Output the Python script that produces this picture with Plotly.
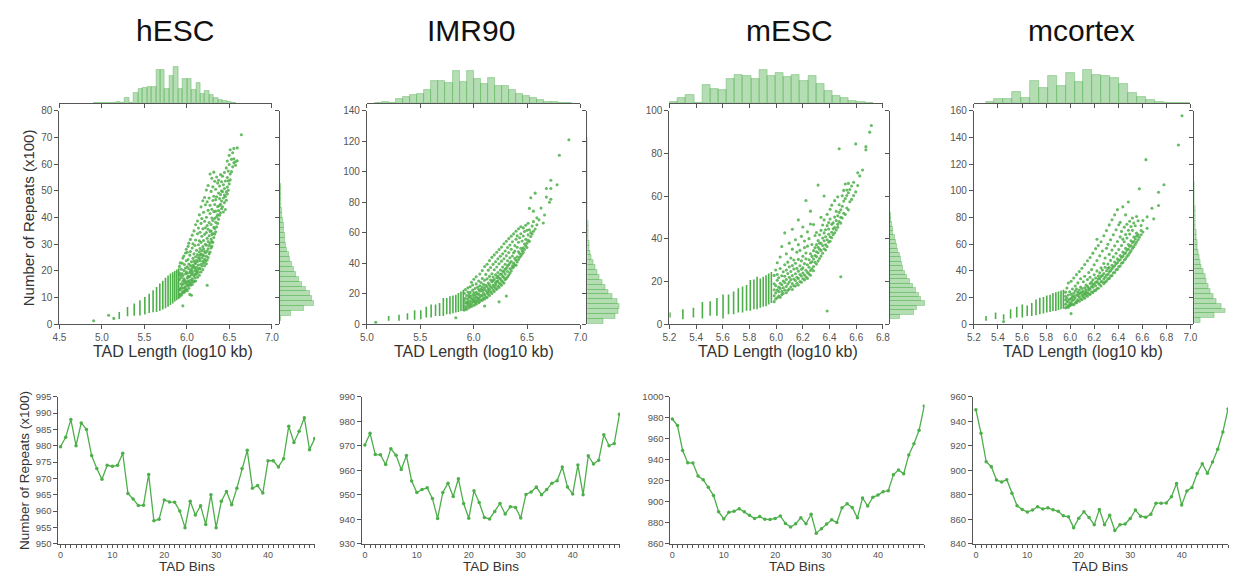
import plotly.graph_objects as go

W, H = 1235, 581
GREEN = "#4daf4a"
FONT = "Liberation Sans, Arial, sans-serif"

cells = ["hESC", "IMR90", "mESC", "mcortex"]
bins = list(range(50))

# ---------------- bottom: repeats per TAD bin (x100) ----------------
hesc_bins = [979.7, 982.6, 988.0, 980.0, 987.0, 985.0, 977.0, 973.0, 969.7, 974.0,
             973.7, 974.0, 977.7, 965.4, 963.7, 961.7, 961.8, 971.2, 957.0, 957.5,
             963.4, 962.8, 962.7, 960.0, 954.9, 963.0, 958.8, 961.6, 955.9, 965.0,
             954.9, 963.0, 966.0, 961.9, 967.0, 973.0, 978.6, 967.0, 967.8, 965.5,
             975.4, 975.4, 973.5, 976.0, 986.0, 981.0, 984.4, 988.6, 978.8, 982.2]
imr90_bins = [970.3, 975.1, 966.4, 966.3, 962.3, 968.8, 966.1, 960.3, 966.0, 955.6,
              950.9, 952.1, 952.8, 948.4, 940.3, 950.9, 954.7, 949.3, 956.5, 946.4,
              940.4, 951.6, 946.8, 940.7, 940.1, 943.1, 946.4, 942.1, 945.1, 944.8,
              940.5, 950.1, 951.1, 953.1, 950.0, 952.1, 954.7, 955.7, 961.3, 953.1,
              950.3, 962.1, 950.0, 965.9, 962.5, 964.1, 974.5, 970.0, 970.9, 982.9]
mesc_bins = [978.8, 972.6, 948.7, 937.2, 936.8, 924.4, 921.0, 913.8, 906.0, 890.5,
             883.6, 889.9, 890.8, 893.3, 890.5, 887.0, 884.0, 885.8, 883.3, 883.0,
             884.0, 886.4, 879.3, 875.9, 879.0, 884.6, 879.0, 888.0, 870.0, 874.3,
             878.7, 882.7, 880.2, 894.2, 898.0, 894.5, 884.6, 903.5, 895.8, 904.2,
             906.3, 909.5, 910.4, 925.6, 930.3, 926.6, 944.6, 955.2, 968.0, 991.3]
mcortex_bins = [949.3, 930.1, 906.9, 902.9, 892.0, 890.4, 892.3, 881.1, 870.9, 868.0,
                865.9, 867.5, 870.1, 868.3, 869.3, 867.7, 866.4, 862.7, 861.9, 853.1,
                860.8, 866.1, 861.3, 855.5, 868.0, 855.5, 863.2, 850.7, 855.5, 856.0,
                860.5, 867.5, 862.4, 861.6, 864.0, 873.1, 873.1, 873.3, 878.4, 889.1,
                871.5, 883.0, 885.9, 897.3, 905.3, 897.6, 906.7, 917.1, 931.2, 950.0]

# ---------------- scatter: discrete-length stripes (x = log10 length, y range) ----------------
hesc_stripe_x = [5.204, 5.301, 5.380, 5.447, 5.505, 5.556, 5.602, 5.643, 5.681, 5.716, 5.748, 5.778, 5.806, 5.833, 5.857, 5.881, 5.903]
hesc_stripe_lo = [2.0, 3.0, 3.2, 3.3, 3.7, 4.2, 4.5, 4.6, 5.0, 5.5, 6.0, 6.6, 7.2, 7.8, 8.5, 9.0, 9.5]
hesc_stripe_hi = [4.6, 6.5, 7.8, 9.0, 10.2, 11.4, 12.8, 14.0, 15.3, 16.3, 17.4, 18.3, 19.0, 19.5, 20.0, 20.5, 21.0]

imr90_stripe_x = [5.204, 5.301, 5.380, 5.447, 5.505, 5.556, 5.602, 5.643, 5.681, 5.716, 5.748, 5.778, 5.806, 5.833, 5.857, 5.881, 5.903]
imr90_stripe_lo = [2.3, 2.3, 3.0, 3.0, 3.3, 4.5, 4.5, 5.5, 5.5, 5.5, 6.6, 6.6, 7.3, 7.7, 8.0, 8.7, 8.7]
imr90_stripe_hi = [5.5, 6.2, 7.3, 9.2, 9.2, 11.5, 13.0, 13.0, 14.0, 17.3, 17.3, 18.4, 18.8, 19.4, 20.5, 21.5, 22.6]

mesc_stripe_x = [5.204, 5.301, 5.380, 5.447, 5.505, 5.556, 5.602, 5.643, 5.681, 5.716, 5.748, 5.778, 5.806, 5.833, 5.857, 5.881, 5.903, 5.924, 5.944, 5.964]
mesc_stripe_lo = [3.2, 2.4, 3.2, 2.7, 4.0, 4.0, 2.7, 4.7, 4.7, 5.5, 5.5, 6.3, 6.3, 7.0, 7.0, 7.8, 8.2, 8.5, 9.3, 10.0]
mesc_stripe_hi = [5.5, 7.0, 7.8, 10.4, 10.8, 12.3, 13.9, 13.9, 15.4, 16.9, 17.7, 18.4, 20.7, 21.0, 22.3, 21.5, 22.3, 23.0, 23.8, 24.5]

mcortex_stripe_x = [5.301, 5.380, 5.447, 5.505, 5.556, 5.602, 5.643, 5.681, 5.716, 5.748, 5.778, 5.806, 5.833, 5.857, 5.881, 5.903, 5.924, 5.944]
mcortex_stripe_lo = [2.7, 3.9, 3.4, 4.4, 5.1, 5.1, 6.3, 6.3, 6.8, 7.6, 8.0, 8.8, 9.3, 10.0, 10.0, 10.7, 11.2, 11.7]
mcortex_stripe_hi = [6.3, 8.8, 7.6, 11.2, 13.2, 14.9, 14.1, 16.0, 18.5, 19.8, 20.5, 21.5, 22.2, 23.4, 24.0, 24.6, 25.4, 25.9]

# ---------------- scatter: individual TADs (x, [repeat counts]) ----------------
hesc_cloud = [
    (4.903, [1.3]), (5.079, [3.4]), (5.140, [2.2]),
    (5.912, [10.4, 16.8, 13.1, 21.7, 19.2]), (5.921, [12.9, 11.3, 18.4, 23.0]),
    (5.933, [15.2, 10.9, 20.6, 13.8, 17.5]), (5.944, [11.6, 22.9, 14.7, 19.0]),
    (5.952, [6.9, 16.1, 12.4, 24.8, 18.3, 13.5]), (5.964, [20.2, 11.9, 15.3, 25.6, 17.0]),
    (5.971, [13.7, 22.4, 16.6, 12.2]), (5.983, [18.9, 14.1, 26.7, 21.1, 12.8, 16.0]),
    (5.992, [15.5, 23.8, 13.0, 19.7, 28.1]), (6.004, [17.3, 12.6, 21.5, 14.9, 27.0, 19.1]),
    (6.013, [14.4, 24.3, 18.0, 16.2, 29.2]), (6.022, [20.8, 13.5, 17.7, 22.6, 15.8, 30.4]),
    (6.034, [11.2, 19.4, 25.9, 15.1, 17.9]), (6.041, [16.5, 22.0, 14.6, 31.8, 19.9, 27.3]),
    (6.053, [10.9, 18.6, 15.7, 23.4, 20.5]), (6.062, [17.0, 28.6, 14.9, 21.3, 33.4, 19.0]),
    (6.071, [19.8, 16.3, 24.7, 22.1, 30.2]), (6.083, [15.9, 21.6, 18.2, 35.0, 26.4, 23.7]),
    (6.094, [18.7, 23.0, 17.4, 29.5, 20.9]), (6.102, [16.2, 25.3, 20.1, 37.3, 22.8, 31.6]),
    (6.113, [21.4, 18.8, 27.7, 24.0, 19.6]), (6.124, [17.6, 23.5, 33.9, 20.4, 26.1, 38.7]),
    (6.135, [22.2, 19.5, 29.8, 25.0, 36.1]), (6.146, [18.4, 24.6, 21.0, 41.0, 31.3, 27.2]),
    (6.154, [23.8, 20.7, 28.4, 34.5, 25.9]), (6.166, [19.6, 26.3, 22.5, 44.0, 30.7, 37.8]),
    (6.175, [24.9, 21.8, 33.0, 27.6, 39.6]), (6.187, [20.5, 29.1, 23.6, 35.8, 46.3, 26.0]),
    (6.196, [25.7, 22.9, 31.4, 42.0, 28.2]), (6.208, [21.9, 27.3, 38.6, 24.4, 33.7, 47.5]),
    (6.217, [26.8, 23.6, 30.0, 44.8, 36.2]), (6.229, [22.7, 29.6, 25.5, 40.1, 34.4, 50.3]),
    (6.238, [14.6, 27.4, 32.2, 24.1, 45.9, 37.0]), (6.249, [25.0, 31.0, 28.3, 42.7, 52.0, 35.6]),
    (6.261, [29.5, 26.4, 38.1, 33.2, 47.3]), (6.272, [27.1, 34.8, 30.4, 56.3, 41.5, 44.6]),
    (6.284, [31.9, 28.6, 37.4, 49.8, 35.0]), (6.293, [29.2, 39.8, 33.6, 54.7, 43.1, 31.0]),
    (6.305, [34.0, 30.7, 46.4, 38.9, 51.5]), (6.316, [32.5, 42.2, 36.3, 57.0, 48.0]),
    (6.327, [35.9, 44.9, 39.7, 33.8, 53.6]), (6.338, [38.2, 34.7, 50.6, 42.4, 46.7]),
    (6.349, [40.3, 36.5, 55.2, 47.8]), (6.361, [37.8, 44.1, 52.9, 41.0]),
    (6.372, [42.6, 39.4, 49.2, 54.0]), (6.384, [44.5, 40.9, 51.8, 47.1]),
    (6.395, [41.8, 48.6, 56.1, 45.0]), (6.407, [46.2, 43.3, 53.4, 50.0]),
    (6.418, [44.0, 49.7, 55.5]), (6.429, [47.3, 42.1, 52.3]), (6.441, [50.9, 45.6, 56.9, 48.4]),
    (6.452, [43.0, 47.9, 53.7]), (6.463, [49.6, 46.5, 58.6]), (6.475, [51.4, 55.0, 61.2, 48.8]),
    (6.486, [53.8, 50.2, 57.4]), (6.497, [52.6, 59.9, 63.3]), (6.509, [56.3, 54.1, 65.4]),
    (6.524, [57.2, 61.8]), (6.538, [59.0, 64.3]), (6.552, [62.0, 60.5, 65.9]),
    (6.571, [59.6, 60.9]), (6.592, [61.3, 66.1]), (6.640, [71.0]),
]
imr90_cloud = [
    (5.083, [1.3]), (5.833, [4.3]),
    (5.912, [9.3, 15.6, 12.0, 20.4]), (5.923, [13.8, 10.4, 22.7, 17.1]),
    (5.934, [11.5, 18.9, 14.2, 9.8]), (5.946, [16.4, 12.7, 21.2, 23.9, 14.9]),
    (5.957, [10.9, 19.5, 13.6, 17.8]), (5.968, [15.0, 24.6, 12.1, 18.3, 20.9]),
    (5.979, [13.3, 16.9, 27.6, 11.7]), (5.991, [19.1, 14.6, 22.4, 16.0, 25.8]),
    (6.002, [12.4, 17.6, 29.5, 15.2, 20.7]), (6.013, [16.3, 23.5, 13.9, 19.4]),
    (6.024, [14.8, 21.0, 18.0, 31.2, 26.5, 13.1]), (6.036, [17.2, 15.5, 24.3, 20.0]),
    (6.047, [19.6, 14.1, 28.4, 22.8, 16.7]), (6.058, [21.7, 17.9, 15.0, 33.0, 25.2]),
    (6.069, [16.1, 23.1, 19.0, 27.4]), (6.081, [18.6, 15.7, 30.0, 21.9, 35.3, 24.5]),
    (6.092, [20.3, 17.0, 26.2, 22.6]), (6.103, [12.0, 19.3, 28.9, 24.0, 16.6, 37.9]),
    (6.114, [22.1, 18.1, 32.7, 25.6]), (6.126, [17.5, 24.8, 20.6, 29.8, 39.4]),
    (6.137, [23.3, 19.7, 35.5, 27.0, 21.4]), (6.148, [18.9, 26.0, 31.4, 22.7, 41.8]),
    (6.159, [24.6, 21.1, 29.0, 37.2]), (6.171, [20.2, 27.9, 23.9, 43.9, 33.1]),
    (6.182, [25.8, 22.4, 31.0, 39.3, 28.6]), (6.193, [21.5, 29.4, 35.8, 24.7, 45.5]),
    (6.205, [27.2, 23.6, 32.5, 41.0, 26.1]), (6.216, [22.9, 30.6, 37.6, 47.2, 28.0]),
    (6.227, [28.5, 25.0, 34.0, 42.9, 31.7]), (6.238, [14.7, 24.2, 30.3, 39.7, 27.1, 49.0]),
    (6.250, [29.9, 26.4, 35.6, 44.6, 32.8]), (6.261, [25.6, 33.0, 41.4, 28.7, 50.6]),
    (6.272, [31.4, 27.8, 37.5, 46.2, 34.9]), (6.284, [27.0, 34.4, 43.0, 30.6, 52.8]),
    (6.295, [32.9, 29.3, 39.4, 48.1, 36.0]), (6.306, [18.5, 30.1, 36.8, 44.9, 54.5]),
    (6.318, [34.6, 31.2, 41.7, 50.4, 38.3]), (6.329, [32.3, 39.0, 47.1, 56.2]),
    (6.340, [36.5, 33.6, 43.6, 52.0, 40.2]), (6.352, [35.0, 41.2, 49.2, 57.8]),
    (6.363, [38.4, 44.8, 36.9, 54.1]), (6.374, [40.1, 37.6, 46.9, 59.3]),
    (6.386, [39.0, 43.2, 51.6, 48.0]), (6.397, [42.0, 38.7, 55.8, 61.0]),
    (6.408, [44.3, 40.8, 50.5, 58.0]), (6.420, [42.5, 47.6, 53.8, 62.6]),
    (6.431, [46.4, 43.9, 56.7]), (6.442, [45.0, 49.9, 59.4, 64.0]), (6.454, [48.3, 46.1, 54.6]),
    (6.465, [50.1, 47.2, 57.9, 63.2]), (6.476, [49.0, 52.6, 60.8]), (6.488, [51.5, 55.7, 64.9]),
    (6.499, [53.2, 50.4, 61.7]), (6.510, [55.0, 58.6, 66.3]), (6.522, [54.4, 62.0, 76.0]),
    (6.535, [57.6, 60.1, 83.0]), (6.548, [59.2, 64.4]), (6.560, [61.0, 67.3, 74.2]),
    (6.576, [62.5, 86.0]), (6.592, [65.2, 69.8]), (6.612, [68.5]), (6.631, [76.2]),
    (6.652, [66.4]), (6.664, [71.7]), (6.681, [83.4, 89.0]), (6.710, [80.0]),
    (6.723, [82.0, 89.0, 94.5]), (6.781, [91.5]), (6.803, [110.8]), (6.892, [121.0]),
]
mesc_cloud = [
    (5.985, [10.6, 16.2, 13.4, 22.9, 19.0]), (5.996, [14.7, 11.9, 25.4, 18.1]),
    (6.008, [12.4, 20.6, 16.0, 28.8, 23.3]), (6.019, [17.4, 13.2, 21.8, 15.3]),
    (6.030, [12.7, 19.2, 26.1, 16.8, 31.5]), (6.042, [15.4, 22.7, 18.5, 13.9, 36.4]),
    (6.053, [20.3, 14.4, 24.6, 17.1]), (6.064, [16.0, 27.9, 19.6, 22.5, 42.8]),
    (6.076, [14.8, 21.0, 17.7, 33.0, 25.4]), (6.087, [18.9, 15.9, 23.8, 29.1]),
    (6.098, [22.0, 16.5, 19.8, 38.0, 26.9]), (6.110, [17.6, 24.7, 20.9, 31.0]),
    (6.121, [16.3, 22.8, 19.1, 35.2, 27.5, 44.5]), (6.132, [21.2, 18.0, 25.9, 30.1]),
    (6.144, [23.7, 17.9, 28.6, 20.5, 39.6]), (6.155, [19.2, 26.2, 22.0, 33.8]),
    (6.166, [24.9, 18.4, 21.5, 30.4, 37.3, 48.9]), (6.178, [20.0, 27.4, 23.3, 34.6]),
    (6.189, [22.6, 29.7, 19.7, 25.8, 41.2]), (6.200, [26.4, 21.3, 31.9, 24.0, 45.6]),
    (6.212, [23.1, 28.4, 20.8, 35.9, 39.0]), (6.223, [25.3, 30.7, 22.2, 33.4, 58.0]),
    (6.234, [27.9, 24.3, 21.5, 36.6, 43.3]), (6.246, [23.6, 30.2, 26.7, 40.1]),
    (6.257, [28.8, 25.2, 33.0, 23.0, 47.0, 53.0]), (6.268, [26.0, 31.8, 29.3, 37.4]),
    (6.280, [30.6, 27.1, 34.5, 25.1, 46.7]), (6.291, [29.0, 35.9, 32.2, 41.6]),
    (6.302, [31.7, 28.2, 37.3, 34.0, 43.0]), (6.314, [33.5, 29.6, 39.2, 36.1, 65.2]),
    (6.325, [30.8, 35.2, 41.9, 38.0]), (6.336, [34.6, 32.0, 37.9, 44.0, 50.1]),
    (6.348, [36.9, 33.3, 40.4, 46.5]), (6.359, [35.4, 39.1, 42.8, 48.9, 60.1]),
    (6.370, [37.2, 34.8, 44.3, 41.0]), (6.382, [6.2, 39.6, 36.4, 46.2, 51.5]),
    (6.393, [38.5, 42.2, 47.7, 44.6]), (6.404, [41.0, 38.9, 49.3, 53.9]),
    (6.416, [43.1, 40.5, 46.8, 55.8]), (6.427, [42.0, 47.5, 44.7]),
    (6.438, [45.3, 42.9, 50.2, 57.9]), (6.450, [44.2, 48.6, 52.9]),
    (6.461, [46.9, 50.8, 45.5, 59.7]), (6.472, [48.1, 52.4, 56.0, 82.2]),
    (6.484, [22.3, 47.4, 53.6, 50.1]), (6.495, [49.8, 55.3, 60.2]), (6.506, [52.0, 57.7, 62.7]),
    (6.518, [51.4, 58.9, 65.7]), (6.529, [54.5, 60.3, 62.9]), (6.541, [53.6, 61.6, 66.0]),
    (6.552, [57.4, 63.1]), (6.565, [58.5, 64.8]), (6.580, [60.3, 66.5]), (6.596, [62.0, 84.5]),
    (6.611, [65.0, 71.0]), (6.626, [69.5]), (6.647, [72.3]), (6.672, [81.7, 83.2]),
    (6.701, [90.0]), (6.713, [93.1]),
]
mcortex_cloud = [
    (5.447, [2.0]),
    (5.962, [12.3, 18.4, 15.0, 24.1, 21.0]), (5.973, [16.7, 13.0, 27.2, 19.6]),
    (5.985, [14.1, 21.9, 12.7, 30.9, 17.5]), (5.996, [18.8, 15.6, 24.4, 13.9]),
    (6.008, [8.0, 16.3, 22.6, 14.4, 32.3, 19.4]), (6.019, [20.7, 15.0, 26.5, 17.9]),
    (6.030, [14.6, 23.3, 18.6, 34.7, 21.1]), (6.042, [19.8, 16.0, 28.7, 24.9]),
    (6.053, [17.2, 22.0, 16.2, 37.2, 26.4]), (6.064, [21.5, 18.3, 31.0, 24.1]),
    (6.076, [17.3, 25.7, 20.4, 39.5, 22.8]), (6.087, [23.6, 19.1, 28.0, 34.1]),
    (6.098, [18.4, 21.6, 26.8, 42.0, 24.2]), (6.110, [24.8, 20.3, 31.9, 22.4]),
    (6.121, [19.6, 27.3, 23.0, 44.8, 36.0]), (6.132, [25.9, 21.7, 29.4, 24.1]),
    (6.144, [21.0, 28.4, 23.5, 47.6, 33.5]), (6.155, [27.1, 22.9, 38.8, 25.6]),
    (6.166, [22.4, 30.6, 26.5, 50.1, 35.2]), (6.178, [28.3, 24.2, 41.0, 31.7]),
    (6.189, [23.9, 33.4, 27.8, 53.3, 29.9]), (6.200, [30.2, 25.3, 37.1, 44.6]),
    (6.212, [25.4, 34.7, 28.9, 56.7, 31.5]), (6.223, [32.1, 26.6, 40.0, 47.8, 63.7]),
    (6.234, [27.0, 36.2, 30.8, 59.0, 33.9]), (6.246, [29.7, 38.5, 34.2, 51.3]),
    (6.257, [28.7, 35.9, 32.0, 61.8, 42.3]), (6.268, [31.8, 40.7, 36.6, 54.9]),
    (6.280, [30.5, 38.0, 33.9, 66.4, 45.5]), (6.291, [35.3, 42.8, 31.6, 49.7]),
    (6.302, [32.4, 40.1, 36.8, 70.2, 57.0]), (6.314, [37.5, 45.1, 34.0, 60.0, 41.9]),
    (6.325, [34.4, 42.6, 39.3, 74.5, 52.4]), (6.336, [40.2, 36.1, 47.9, 63.3]),
    (6.348, [36.5, 44.3, 41.7, 78.3, 55.6]), (6.359, [42.9, 38.6, 50.5, 67.1]),
    (6.370, [38.8, 46.7, 43.9, 82.0, 58.8]), (6.382, [45.4, 40.8, 53.2, 70.9]),
    (6.393, [41.2, 49.0, 46.1, 85.9, 62.0]), (6.404, [47.8, 43.2, 56.1, 74.6]),
    (6.416, [43.7, 51.6, 48.4, 76.4, 65.5]), (6.427, [50.3, 45.7, 59.0, 69.6]),
    (6.438, [46.3, 54.2, 50.9, 88.0, 63.8]), (6.450, [52.8, 48.2, 61.9, 72.8]),
    (6.461, [49.1, 57.0, 53.5, 82.0, 67.3]), (6.472, [55.6, 50.8, 64.7, 75.0]),
    (6.484, [52.0, 59.8, 56.2, 91.7, 70.5]), (6.495, [58.4, 53.6, 67.6, 77.2]),
    (6.506, [55.0, 62.6, 59.1, 73.3]), (6.518, [61.3, 56.9, 70.4, 79.6]),
    (6.529, [58.2, 65.4, 62.0, 75.9]), (6.541, [64.0, 59.9, 73.9]),
    (6.552, [61.6, 68.3, 66.0, 80.8]), (6.565, [67.1, 63.4, 77.6]), (6.575, [65.2, 101.5]),
    (6.590, [70.3, 67.1, 74.0]), (6.605, [69.2, 77.8]), (6.630, [123.4]), (6.640, [72.0, 80.5]),
    (6.680, [87.0]), (6.695, [79.0]), (6.735, [89.0, 99.0]), (6.780, [104.6]),
    (6.900, [134.4]), (6.930, [156.3]),
]

# ---------------- marginal histograms (first bin edge, bin width, counts) ----------------
hesc_top_x0, hesc_top_w = 4.903, 0.0523
hesc_top_counts = [1, 0, 0, 1, 0, 4, 0, 17, 0, 33, 43, 47, 50, 51, 102, 102, 45, 83, 112, 45, 74, 74, 42, 62, 28, 38, 25, 15, 11, 7, 3, 2]
imr90_top_x0, imr90_top_w = 5.075, 0.066
imr90_top_counts = [1, 5, 0, 13, 21, 26, 30, 40, 70, 68, 63, 98, 66, 98, 76, 60, 78, 53, 53, 40, 30, 23, 18, 10, 5, 3, 1, 1]
mesc_top_x0, mesc_top_w = 5.201, 0.061
mesc_top_counts = [3, 15, 26, 0, 55, 44, 41, 76, 88, 83, 76, 103, 84, 94, 82, 88, 68, 83, 58, 38, 24, 18, 8, 3, 1]
mcortex_top_x0, mcortex_top_w = 5.296, 0.074
mcortex_top_counts = [3, 13, 13, 35, 16, 70, 48, 83, 53, 94, 66, 103, 88, 85, 79, 60, 31, 21, 11, 5, 2, 1, 1]

hesc_right_y0, hesc_right_w = 1.4, 1.83
hesc_right_counts = [3, 32, 72, 102, 97, 90, 80, 68, 58, 50, 43, 37, 30, 26, 22, 18, 16, 14, 11, 12, 9, 7, 5, 4, 3, 3, 2, 2, 1, 1, 1, 1, 0, 1, 0, 0, 0, 0, 1]
imr90_right_y0, imr90_right_w = 0.5, 3.2
imr90_right_counts = [50, 85, 95, 98, 90, 75, 65, 55, 45, 35, 30, 23, 18, 13, 10, 7, 5, 4, 3, 2, 2, 1, 1, 1, 1, 0, 1, 0, 1, 0, 0, 0, 0, 1, 0, 0, 0, 1]
mesc_right_y0, mesc_right_w = 2.6, 2.06
mesc_right_counts = [30, 72, 82, 107, 94, 87, 80, 70, 60, 52, 44, 40, 37, 34, 29, 25, 20, 17, 14, 10, 8, 6, 4, 2, 1, 1, 1, 0, 1, 0, 1, 0, 1, 0, 0, 1, 0, 0, 1, 0, 0, 0, 1, 0, 1]
mcortex_right_y0, mcortex_right_w = 1.0, 3.66
mcortex_right_counts = [17, 62, 94, 82, 67, 57, 50, 42, 37, 32, 27, 22, 18, 15, 13, 10, 8, 6, 5, 4, 3, 3, 2, 2, 1, 1, 1, 0, 1]

DATA = [
    (hesc_bins, hesc_stripe_x, hesc_stripe_lo, hesc_stripe_hi, hesc_cloud,
     hesc_top_x0, hesc_top_w, hesc_top_counts, hesc_right_y0, hesc_right_w, hesc_right_counts),
    (imr90_bins, imr90_stripe_x, imr90_stripe_lo, imr90_stripe_hi, imr90_cloud,
     imr90_top_x0, imr90_top_w, imr90_top_counts, imr90_right_y0, imr90_right_w, imr90_right_counts),
    (mesc_bins, mesc_stripe_x, mesc_stripe_lo, mesc_stripe_hi, mesc_cloud,
     mesc_top_x0, mesc_top_w, mesc_top_counts, mesc_right_y0, mesc_right_w, mesc_right_counts),
    (mcortex_bins, mcortex_stripe_x, mcortex_stripe_lo, mcortex_stripe_hi, mcortex_cloud,
     mcortex_top_x0, mcortex_top_w, mcortex_top_counts, mcortex_right_y0, mcortex_right_w, mcortex_right_counts),
]

# ---------------- layout (page-pixel geometry) ----------------
LAYOUT = [
    dict(sx=(53, 268), rh=(276, 312), xr=[4.5, 7.0], xd=0.5, yr=[0, 80], yd=10,
         bx=(52, 311.5), bxr=[-0.4, 49.05], byr=[950, 995], byd=5, tc=170, xtc=168),
    dict(sx=(364, 580), rh=(587, 623), xr=[5.0, 7.0], xd=0.5, yr=[0, 140], yd=20,
         bx=(359, 620), bxr=[-0.57, 49.1], byr=[930, 990], byd=10, tc=469, xtc=472),
    dict(sx=(670, 886), rh=(893, 929), xr=[5.2, 6.8], xd=0.2, yr=[0, 100], yd=20,
         bx=(671, 928), bxr=[-0.38, 49.05], byr=[860, 1000], byd=20, tc=791, xtc=780),
    dict(sx=(978, 1197), rh=(1201, 1235), xr=[5.2, 7.0], xd=0.2, yr=[0, 160], yd=20,
         bx=(977, 1235), bxr=[-0.58, 49.0], byr=[840, 960], byd=20, tc=1087, xtc=1088),
]
SC_Y = (107, 325)
TOP_Y = (55, 99.3)
BOT_Y = (399, 549)


def px(a):
    return min(1.0, max(0.0, a / W))


def py(b):
    return min(1.0, max(0.0, 1 - b / H))


def dx(a, b):
    return [px(a), px(b)]


def dy(top, bottom):
    return [py(bottom), py(top)]


AX = dict(showline=True, linecolor="#555", linewidth=1, ticks="outside", ticklen=4,
          tickcolor="#555", tickwidth=1, tickfont=dict(size=10, color="#555", family=FONT),
          showgrid=False, zeroline=False, mirror=False)
HIDDEN = dict(visible=False, showgrid=False, zeroline=False)
HIST_FILL = "rgba(77,175,74,0.42)"
HIST_EDGE = "rgba(77,175,74,0.65)"

fig = go.Figure()
layout = {}
annotations = []

for p, (name, data, L) in enumerate(zip(cells, DATA, LAYOUT)):
    (lines, sx_, slo, shi, cloud, tx0, tw, tc, ry0, rw, rc) = data
    n0 = 4 * p
    ids = [str(n0 + k) if n0 + k > 1 else "" for k in (1, 2, 3, 4)]
    xs_id = ["x" + i for i in ids]
    ys_id = ["y" + i for i in ids]

    st_x, st_y = [], []
    for x, lo, hi in zip(sx_, slo, shi):
        st_x += [x, x, None]
        st_y += [lo, hi, None]
    fig.add_trace(go.Scatter(x=st_x, y=st_y, mode="lines", line=dict(color=GREEN, width=1.6),
                             xaxis=xs_id[0], yaxis=ys_id[0], showlegend=False, hoverinfo="skip"))
    cx, cy = [], []
    for x, vals in cloud:
        for v in vals:
            cx.append(x)
            cy.append(v)
    fig.add_trace(go.Scatter(x=cx, y=cy, mode="markers",
                             marker=dict(color=GREEN, size=3.1, opacity=0.85, line=dict(width=0)),
                             xaxis=xs_id[0], yaxis=ys_id[0], showlegend=False))

    tcent = [tx0 + (i + 0.5) * tw for i in range(len(tc))]
    fig.add_trace(go.Bar(x=tcent, y=tc, width=tw,
                         marker=dict(color=HIST_FILL, line=dict(color=HIST_EDGE, width=0.6)),
                         xaxis=xs_id[1], yaxis=ys_id[1], showlegend=False))
    rcent = [ry0 + (i + 0.5) * rw for i in range(len(rc))]
    fig.add_trace(go.Bar(y=rcent, x=rc, width=rw, orientation="h",
                         marker=dict(color=HIST_FILL, line=dict(color=HIST_EDGE, width=0.6)),
                         xaxis=xs_id[2], yaxis=ys_id[2], showlegend=False))
    fig.add_trace(go.Scatter(x=bins, y=lines, mode="lines+markers",
                             line=dict(color=GREEN, width=1.3), marker=dict(color=GREEN, size=3.5),
                             xaxis=xs_id[3], yaxis=ys_id[3], showlegend=False))

    layout["xaxis" + ids[0]] = dict(AX, domain=dx(*L["sx"]), range=L["xr"], tick0=L["xr"][0],
                                    dtick=L["xd"], tickformat=".1f", anchor=ys_id[0])
    layout["yaxis" + ids[0]] = dict(AX, domain=dy(*SC_Y), range=L["yr"], tick0=0, dtick=L["yd"],
                                    anchor=xs_id[0])
    layout["xaxis" + ids[1]] = dict(AX, domain=dx(*L["sx"]), range=L["xr"], tick0=L["xr"][0],
                                    dtick=L["xd"], showticklabels=False, anchor=ys_id[1])
    layout["yaxis" + ids[1]] = dict(HIDDEN, domain=dy(*TOP_Y), range=[0, 133], anchor=xs_id[1])
    rw_px = min(L["rh"][1], W) - L["rh"][0]
    layout["xaxis" + ids[2]] = dict(HIDDEN, domain=dx(*L["rh"]), range=[0, 3 * rw_px], anchor=ys_id[2])
    layout["yaxis" + ids[2]] = dict(AX, domain=dy(*SC_Y), range=L["yr"], tick0=0, dtick=L["yd"],
                                    showticklabels=False, anchor=xs_id[2])
    layout["xaxis" + ids[3]] = dict(AX, domain=dx(*L["bx"]), range=L["bxr"], tick0=0, dtick=10,
                                    ticklen=3,
                                    minor=dict(ticks="outside", dtick=1, ticklen=3, tickcolor="#555"),
                                    anchor=ys_id[3], tickfont=dict(size=9, color="#555", family=FONT))
    layout["yaxis" + ids[3]] = dict(AX, domain=dy(*BOT_Y), range=L["byr"], tick0=L["byr"][0],
                                    dtick=L["byd"], anchor=xs_id[3],
                                    tickfont=dict(size=9.5, color="#555", family=FONT))

    annotations.append(dict(text=name, x=px(L["tc"]), y=py(25), xref="paper", yref="paper",
                            showarrow=False, xanchor="center", yanchor="middle",
                            font=dict(size=30, color="#111", family=FONT)))
    annotations.append(dict(text="TAD Length (log10 kb)", x=px(L["xtc"]), y=py(353),
                            xref="paper", yref="paper", showarrow=False, xanchor="center",
                            yanchor="middle", font=dict(size=16, color="#333", family=FONT)))
    bcx = (L["bx"][0] + min(L["bx"][1], W)) / 2
    annotations.append(dict(text="TAD Bins", x=px(bcx), y=0, xref="paper", yref="paper",
                            showarrow=False, xanchor="center", yanchor="bottom", borderpad=0,
                            font=dict(size=13.5, color="#333", family=FONT)))

annotations.append(dict(text="Number of Repeats (x100)", x=px(22), y=py(216), xref="paper",
                        yref="paper", showarrow=False, textangle=-90, xanchor="center",
                        yanchor="middle", font=dict(size=15, color="#333", family=FONT)))
annotations.append(dict(text="Number of Repeats (x100)", x=px(17), y=py(474), xref="paper",
                        yref="paper", showarrow=False, textangle=-90, xanchor="center",
                        yanchor="middle", font=dict(size=13.5, color="#333", family=FONT)))

fig.update_layout(width=W, height=H, margin=dict(l=0, r=0, t=0, b=0),
                  paper_bgcolor="white", plot_bgcolor="white", bargap=0,
                  font=dict(family=FONT), annotations=annotations, **layout)

fig.write_html("out.html", config={"displayModeBar": False},
               post_script="document.body.style.margin='0';document.body.style.overflow='hidden';")
